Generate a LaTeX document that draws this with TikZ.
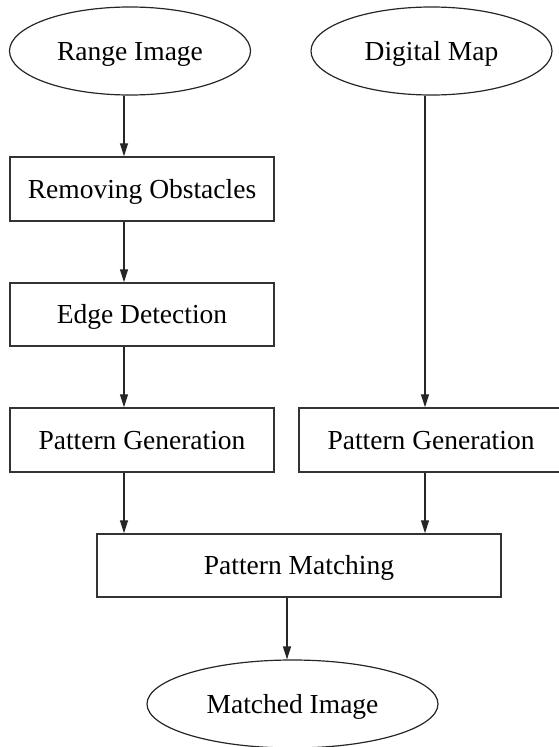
\documentclass[tikz,border=0pt]{standalone}
\usepackage{fontspec}
\setmainfont{Liberation Serif}
\usetikzlibrary{shapes.geometric,arrows.meta}
\begin{document}
\begin{tikzpicture}[x=1pt,y=-1pt,
  every node/.style={font=\fontsize{27.5}{33}\selectfont, inner sep=0pt, text height=18pt, text depth=0pt},
  oval/.style={ellipse, draw=black!85, line width=1.2pt, minimum width=241pt, minimum height=88pt},
  box/.style={rectangle, draw=black!80, line width=1.5pt, minimum width=264pt, minimum height=64pt},
  arr/.style={line width=1.3pt, draw=black!85, -{Triangle[length=13pt,width=8pt]}}]
\useasboundingbox (0,0) rectangle (559,747);
\node[oval] (ri) at (130,51) {Range Image};
\node[oval] (dm) at (431.5,51) {Digital Map};
\node[box] (ro) at (142,189) {Removing Obstacles};
\node[box, minimum height=63pt] (ed) at (142,314.5) {Edge Detection};
\node[box] (pg1) at (142,440) {Pattern Generation};
\node[box] (pg2) at (431,440) {Pattern Generation};
\node[box, minimum width=404pt, minimum height=63pt] (pm) at (299,565.5) {Pattern Matching};
\node[oval, minimum width=291pt] (mi) at (292.5,704) {Matched Image};
\coordinate (cl) at (124,0);
\coordinate (cr) at (425,0);
\coordinate (cm) at (287,0);
\draw[arr] (ri.south -| cl) -- (ro.north -| cl);
\draw[arr] (ro.south -| cl) -- (ed.north -| cl);
\draw[arr] (ed.south -| cl) -- (pg1.north -| cl);
\draw[arr] (pg1.south -| cl) -- (pm.north -| cl);
\draw[arr] (dm.south -| cr) -- (pg2.north -| cr);
\draw[arr] (pg2.south -| cr) -- (pm.north -| cr);
\draw[arr] (pm.south -| cm) -- (mi.north -| cm);
\end{tikzpicture}
\end{document}
